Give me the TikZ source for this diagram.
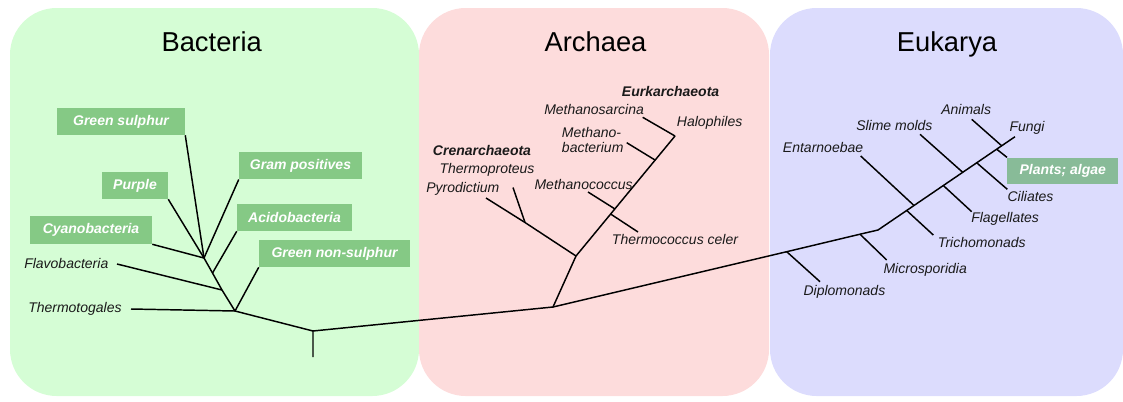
\documentclass[tikz,border=0pt]{standalone}
\usepackage{fontspec}
\setmainfont{Liberation Sans}
\definecolor{bgreen}{HTML}{D5FDD5}
\definecolor{bpink}{HTML}{FDDCDC}
\definecolor{bblue}{HTML}{DCDCFD}
\definecolor{boxgreen}{HTML}{85C985}
\definecolor{boxplant}{HTML}{88BB98}
\definecolor{txt}{HTML}{1A1A1A}
\begin{document}
\begin{tikzpicture}[x=0.75pt,y=-0.75pt,
  panel/.style={rounded corners=35pt},
  lbl/.style={inner sep=0pt,anchor=west,text=txt,font=\fontsize{10.5}{12}\selectfont\itshape},
  blbl/.style={inner sep=0pt,anchor=west,text=txt,font=\fontsize{10.5}{12}\selectfont\bfseries\itshape},
  gbox/.style={fill=boxgreen,text=white,inner sep=0pt,minimum height=20.25pt,font=\fontsize{10.5}{12}\selectfont\bfseries\itshape},
  title/.style={anchor=base,text=black,font=\fontsize{20.5}{24}\selectfont},
  branch/.style={line width=1.1pt,black}]
\useasboundingbox (0,0) rectangle (1123,401);
% panels
\fill[bgreen,panel] (10,8) rectangle (419,396);
\fill[bpink,panel] (419,8) rectangle (769,396);
\fill[bblue,panel] (770,8) rectangle (1123,396);
% titles
\node[title] (tB) at (211.7,51.7) {Bacteria};
\node[title] (tA) at (595.5,51.7) {Archaea};
\node[title] (tE) at (947,51.7) {Eukarya};
% bacteria boxes
\node[gbox,minimum width=96pt] (gs) at (121,121.5) {Green sulphur};
\node[gbox,minimum width=92.25pt] (gp) at (300.5,165.7) {Gram positives};
\node[gbox,minimum width=49.5pt] (pu) at (135,185.5) {Purple};
\node[gbox,minimum width=86.25pt] (ac) at (294.5,217.5) {Acidobacteria};
\node[gbox,minimum width=91.5pt,minimum height=21pt] (cy) at (91,230) {Cyanobacteria};
\node[gbox,minimum width=113.25pt] (gn) at (334.5,253.5) {Green non-sulphur};
\node[lbl] (fl) at (24,263.5) {Flavobacteria};
\node[lbl] (th) at (28,309.3) {Thermotogales};
% bacteria tree
\coordinate (r0) at (313,357);
\coordinate (r1) at (313,331);
\coordinate (b1) at (235,311);
\coordinate (b2) at (222,290);
\coordinate (b3) at (212.5,273);
\coordinate (b4) at (204,258);
\coordinate (flE) at (117,264);
\coordinate (thE) at (131,309);
\draw[branch] (r0) -- (r1) -- (b1) -- (b2) -- (b3) -- (b4);
\draw[branch] (thE) -- (b1);
\draw[branch] (gn.south west) -- (b1);
\draw[branch] (flE) -- (b2);
\draw[branch] (ac.south west) -- (b3);
\draw[branch] (gs.south east) -- (b4);
\draw[branch] (gp.south west) -- (b4);
\draw[branch] (pu.south east) -- (b4);
\draw[branch] (cy.south east) -- (b4);
% archaea labels
\node[blbl] (eu) at (621.7,91.7) {Eurkarchaeota};
\node[lbl] (msa) at (544,109.3) {Methanosarcina};
\node[lbl] (hal) at (676.7,123) {Halophiles};
\node[lbl,align=left] (mba) at (561.7,139.7) {Methano-\\[-0.5pt]bacterium};
\node[blbl] (cren) at (432.7,150.7) {Crenarchaeota};
\node[lbl] (tpr) at (439.3,170) {Thermoproteus};
\node[lbl] (pyr) at (426,189) {Pyrodictium};
\node[lbl] (mco) at (534.3,184.3) {Methanococcus};
\node[lbl] (tcc) at (611.7,239.3) {Thermococcus celer};
% archaea tree
\coordinate (a0) at (553,307);
\coordinate (a1) at (576,256);
\coordinate (a2) at (525,222.5);
\coordinate (crE) at (486,198);
\coordinate (tpE) at (513,187.5);
\coordinate (atop) at (675,136);
\coordinate (mcE) at (588,192);
\coordinate (mcJ) at (615,209);
\coordinate (tcJ) at (610.6,214);
\coordinate (tcE) at (638,232);
\coordinate (mbE) at (626.7,142.7);
\coordinate (mbJ) at (655,160);
\coordinate (msE) at (642.7,117.3);
\draw[branch] (r1) -- (a0) -- (a1) -- (atop);
\draw[branch] (a1) -- (a2) -- (crE);
\draw[branch] (a2) -- (tpE);
\draw[branch] (mcE) -- (mcJ);
\draw[branch] (tcJ) -- (tcE);
\draw[branch] (mbE) -- (mbJ);
\draw[branch] (msE) -- (atop);
% eukarya labels
\node[lbl] (ani) at (941,109.3) {Animals};
\node[lbl] (fun) at (1009.3,128.3) {Fungi};
\node[lbl] (sli) at (856,125) {Slime molds};
\node[lbl] (ent) at (782.7,147.3) {Entarnoebae};
\node[gbox,fill=boxplant,minimum width=83.25pt,minimum height=20pt] (pla) at (1062.8,171) {Plants; algae};
\node[lbl] (cil) at (1007.3,196.7) {Ciliates};
\node[lbl] (fla) at (971,219.3) {Flagellates};
\node[lbl] (tri) at (937.7,242.7) {Trichomonads};
\node[lbl] (mic) at (883.3,270) {Microsporidia};
\node[lbl] (dip) at (803.3,291.7) {Diplomonads};
% eukarya tree
\coordinate (e1) at (786.7,251.7);
\coordinate (e3) at (860,234.2);
\coordinate (e2) at (878,230);
\coordinate (etop) at (1015,136.7);
\coordinate (dpE) at (820,281.7);
\coordinate (miE) at (886.7,260);
\coordinate (trJ) at (906.7,210.5);
\coordinate (trE) at (933.3,235);
\coordinate (enE) at (860.7,156);
\coordinate (enJ) at (914,205.5);
\coordinate (flJ) at (943.3,185.5);
\coordinate (flaE) at (971.7,211.7);
\coordinate (slE) at (920,134.3);
\coordinate (slJ) at (962.7,172.3);
\coordinate (ciJ) at (976.7,162.8);
\coordinate (ciE) at (1007.3,189.3);
\coordinate (anE) at (971.7,119.3);
\coordinate (anJ) at (1001.7,145.8);
\coordinate (plJ) at (996.7,149.2);
\draw[branch] (a0) -- (e1) -- (e3) -- (e2) -- (etop);
\draw[branch] (e1) -- (dpE);
\draw[branch] (e3) -- (miE);
\draw[branch] (trJ) -- (trE);
\draw[branch] (enE) -- (enJ);
\draw[branch] (flJ) -- (flaE);
\draw[branch] (slE) -- (slJ);
\draw[branch] (ciJ) -- (ciE);
\draw[branch] (anE) -- (anJ);
\draw[branch] (plJ) -- (pla.north west);
\end{tikzpicture}
\end{document}
